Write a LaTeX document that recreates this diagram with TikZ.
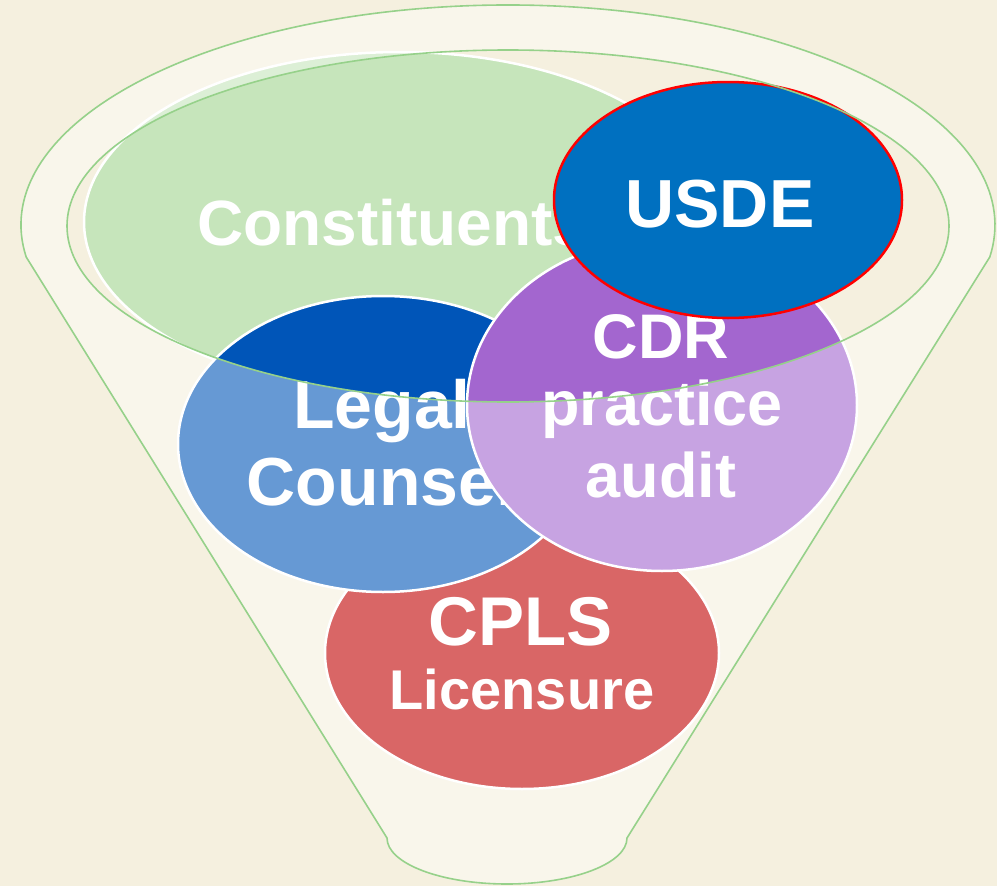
\documentclass[tikz,border=0pt]{standalone}
\usepackage{fontspec}
\setmainfont{Liberation Sans}
\usetikzlibrary{shapes.geometric}
\definecolor{bg}{HTML}{F5F0DF}
\definecolor{rim}{HTML}{96D18A}
\definecolor{constg}{HTML}{C6E5BB}
\definecolor{legalb}{HTML}{0055B8}
\definecolor{cdrp}{HTML}{A366CF}
\definecolor{usdeb}{HTML}{0070C0}
\definecolor{cplsr}{HTML}{C00000}
\definecolor{usder}{HTML}{FF0000}
\begin{document}
\begin{tikzpicture}[x=1pt,y=-1pt,
  blob/.style={ellipse, inner sep=0pt, outer sep=0pt, draw=white, line width=2.5pt},
  lbl/.style={text=white, anchor=base, inner sep=0pt, font=\bfseries\fontsize{#1}{#1}\selectfont},
  rimline/.style={draw=rim, line width=1.6pt}]
\useasboundingbox (0,0) rectangle (997,886);
\fill[bg] (0,0) rectangle (997,886);

% circles
\node[blob, fill=cplsr, minimum width=394pt, minimum height=272pt] (cpls) at (522,653) {};
\node[lbl=69] (tcpls) at (521,645) {CPLS};
\node[lbl=56] (tlic) at (522,709) {Licensure};

\node[blob, fill=constg, minimum width=632pt, minimum height=340pt] (const) at (400,222) {};
\node[lbl=64] (tconst) at (393,245) {Constituents};

\node[blob, fill=legalb, minimum width=410pt, minimum height=296pt] (legal) at (383,444) {};
\node[lbl=68] (tlegal) at (382,428) {Legal};
\node[lbl=68] (tcoun) at (381,505) {Counsel};

\node[blob, fill=cdrp, minimum width=390pt, minimum height=332pt] (cdr) at (662,405) {};
\node[lbl=63] (tcdr) at (661,358) {CDR};
\node[lbl=63] (tprac) at (662,425) {practice};
\node[lbl=63] (taud) at (661,497) {audit};

% funnel overlay
\fill[white, fill opacity=0.4, even odd rule]
  (26.2,257) arc[start angle=188.37, end angle=-8.37, x radius=487pt, y radius=220pt]
  -- (627,838) .. controls (627,863.4) and (573.2,884) .. (507,884)
  .. controls (440.8,884) and (387,863.4) .. (387,838)
  -- cycle
  (508,226) ellipse [x radius=441pt, y radius=176pt];
\draw[rimline]
  (26.2,257) arc[start angle=188.37, end angle=-8.37, x radius=487pt, y radius=220pt]
  -- (627,838) .. controls (627,863.4) and (573.2,884) .. (507,884)
  .. controls (440.8,884) and (387,863.4) .. (387,838)
  -- cycle;

% USDE
\node[blob, draw=usder, fill=usdeb, minimum width=348pt, minimum height=236pt] (usde) at (728,200) {};
\node[lbl=68] (tusde) at (720,227) {USDE};

\draw[rimline] (508,226) ellipse [x radius=441pt, y radius=176pt];
\end{tikzpicture}
\end{document}
